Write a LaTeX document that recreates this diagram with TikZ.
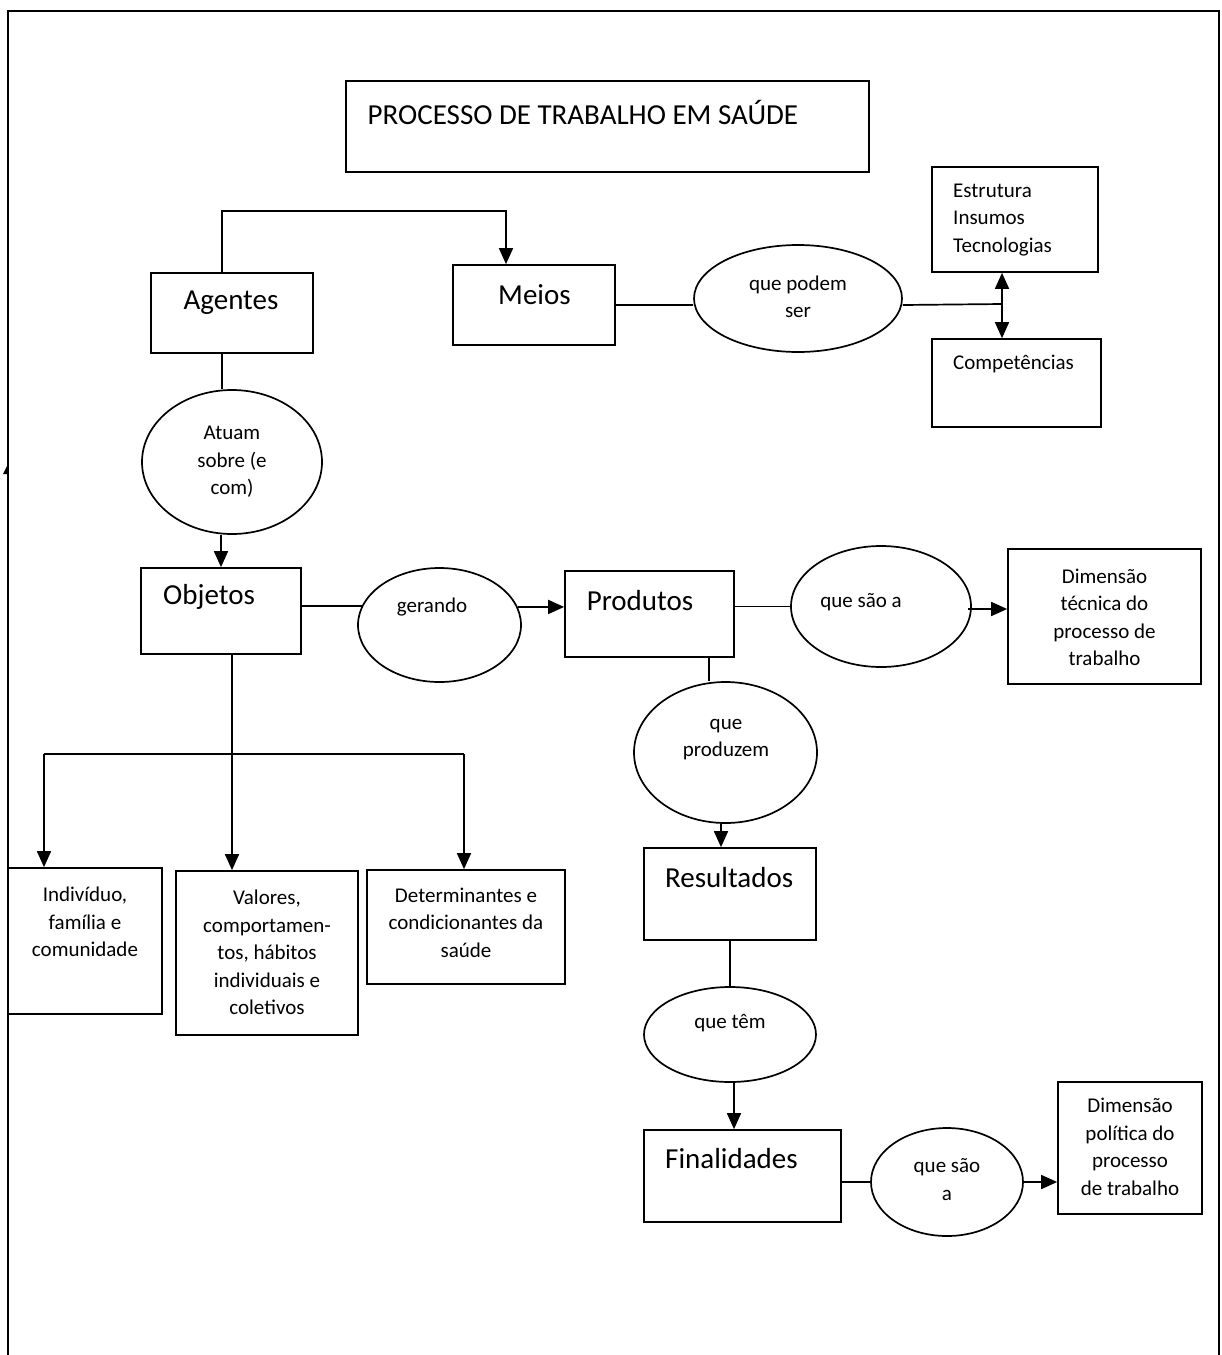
\documentclass[tikz,border=0pt]{standalone}
\usepackage{fontspec}
\setmainfont{Carlito}
\usetikzlibrary{shapes.geometric,arrows.meta,calc}
\tikzset{
  box/.style={draw,line width=1.7pt,rectangle,inner sep=0pt},
  oval/.style={draw,line width=1.7pt,ellipse,inner sep=0pt},
  big/.style={font=\fontsize{29}{35}\selectfont,inner sep=0pt},
  small/.style={font=\fontsize{21}{27.5}\selectfont,inner sep=0pt},
  conn/.style={line width=1.7pt},
  arr/.style={line width=1.7pt,-{Triangle[length=16pt,width=14pt]}},
  darr/.style={line width=1.7pt,{Triangle[length=16pt,width=14pt]}-{Triangle[length=16pt,width=14pt]}},
}
\begin{document}
\begin{tikzpicture}[x=1pt,y=-1pt]
\useasboundingbox (0,0) rectangle (1222,1355);
% frame
\draw[line width=2.4pt] (8,1362) -- (8,11) -- (1219,11) -- (1219,1362);
\fill (3,474) -- (7,466) -- (8,466) -- (8,474) -- cycle;

% boxes
\node[box,minimum width=523pt,minimum height=91pt] (title) at (607.5,126.5) {};
\node[box,minimum width=162pt,minimum height=80pt] (agentes) at (232,313) {};
\node[box,minimum width=162pt,minimum height=80pt] (meios) at (534,305) {};
\node[box,minimum width=166pt,minimum height=105pt] (estrutura) at (1015,219.5) {};
\node[box,minimum width=169pt,minimum height=88pt] (compet) at (1016.5,383) {};
\node[box,minimum width=160pt,minimum height=86pt] (objetos) at (221,611) {};
\node[box,minimum width=169pt,minimum height=86pt] (produtos) at (649.5,614) {};
\node[box,minimum width=193pt,minimum height=135pt] (dimtec) at (1104.5,616.5) {};
\node[box,minimum width=154pt,minimum height=146pt] (indiv) at (85,941) {};
\node[box,minimum width=182pt,minimum height=164pt] (valores) at (267,953) {};
\node[box,minimum width=198pt,minimum height=114pt] (determ) at (466,927) {};
\node[box,minimum width=172pt,minimum height=92pt] (resultados) at (730,894) {};
\node[box,minimum width=197pt,minimum height=92pt] (finalidades) at (742.5,1176) {};
\node[box,minimum width=144pt,minimum height=132pt] (dimpol) at (1130,1148) {};

% ellipses
\node[oval,minimum width=208pt,minimum height=107pt] (podem) at (798,298.5) {};
\node[oval,minimum width=180pt,minimum height=144pt] (atuam) at (232,462) {};
\node[oval,minimum width=163pt,minimum height=114pt] (gerando) at (439.5,625) {};
\node[oval,minimum width=180pt,minimum height=121pt] (saoa1) at (881,606.5) {};
\node[oval,minimum width=183pt,minimum height=141pt] (produzem) at (725.5,752.5) {};
\node[oval,minimum width=172pt,minimum height=95pt] (tem) at (730,1034.5) {};
\node[oval,minimum width=152pt,minimum height=108pt] (saoa2) at (947,1182) {};

% texts
\node[big,anchor=west] (tTitle) at (367.5,112) {PROCESSO DE TRABALHO EM SAÚDE};
\node[big] (tAg) at (231,303) {Agentes};
\node[big] (tMe) at (534.5,295) {Meios};
\node[small,align=left,anchor=west] (tEs) at (953,220) {Estrutura\\Insumos\\Tecnologias};
\node[small,anchor=west] (tCo) at (953,364) {Competências};
\node[small,align=center] (tPo) at (798,297) {que podem\\ser};
\node[small,align=center] (tAt) at (232,462) {Atuam\\sobre (e\\com)};
\node[big,anchor=west] (tOb) at (163,597) {Objetos};
\node[small] (tGe) at (432,607) {gerando};
\node[big,anchor=west] (tPr) at (586.6,601) {Produtos};
\node[small] (tSa1) at (861,602) {que são a};
\node[small,align=center] (tDt) at (1104.5,617.5) {Dimensão\\técnica do\\processo de\\trabalho};
\node[small,align=center] (tPz) at (726,739.5) {que\\produzem};
\node[big,anchor=west] (tRe) at (665,878) {Resultados};
\node[small] (tTe) at (730,1023) {que têm};
\node[big,anchor=west] (tFi) at (665,1159) {Finalidades};
\node[small,align=center] (tSa2) at (947,1179.5) {que são\\a};
\node[small,align=center] (tDp) at (1130,1147) {Dimensão\\política do\\processo\\de trabalho};
\node[small,align=center] (tIn) at (85,922) {Indivíduo,\\família e\\comunidade};
\node[small,align=center] (tVa) at (267,952.5) {Valores,\\comportamen-\\tos, hábitos\\individuais e\\coletivos};
\node[small,align=center] (tDe) at (466,922.5) {Determinantes e\\condicionantes da\\saúde};

% connectors
\draw[arr] ([xshift=-10pt]agentes.north) -- ++(0,-61) -| ([xshift=-28pt]meios.north);
\draw[conn] (meios.east) -- (podem.west |- meios.east);
\coordinate (j1) at (1002,304);
\draw[conn] (podem.east |- meios.east) -- (j1);
\draw[darr] (estrutura.south -| j1) -- (compet.north -| j1);

\draw[conn] ([xshift=-10pt]agentes.south) -- ([xshift=-10pt]atuam.north);
\draw[arr] (objetos.north |- atuam.south) -- (objetos.north);

\coordinate (o1) at ([yshift=5pt]objetos.east);
\draw[conn] (o1) -- (o1 -| gerando.166);
\draw[arr] (gerando.13) -- (produtos.west |- gerando.13);
\draw[conn] (produtos.east |- saoa1.west) -- (saoa1.west);
\coordinate (s1) at ([xshift=-4pt,yshift=-2.5pt]saoa1.east);
\draw[arr] (s1) -- (dimtec.west |- s1);

\coordinate (p1) at ([xshift=-16.5pt]produzem.north);
\draw[conn] (p1 |- produtos.south) -- (p1);
\coordinate (p2) at ([xshift=-4.5pt]produzem.south);
\draw[arr] (p2) -- (p2 |- resultados.north);
\draw[conn] (resultados.south) -- (tem.north);
\coordinate (t1) at ([xshift=4pt]tem.south);
\draw[arr] (t1) -- (t1 |- finalidades.north);
\draw[conn] (finalidades.east |- saoa2.west) -- (saoa2.west);
\draw[arr] (saoa2.east) -- (dimpol.west |- saoa2.east);

\coordinate (b0) at (232,754);
\coordinate (bl) at (44,754);
\coordinate (br) at (464,754);
\draw[conn] (b0 |- objetos.south) -- (b0);
\draw[conn] (bl) -- (br);
\draw[arr] (bl) -- (bl |- indiv.north);
\draw[arr] (b0) -- (b0 |- valores.north);
\draw[arr] (br) -- (br |- determ.north);
\end{tikzpicture}
\end{document}
